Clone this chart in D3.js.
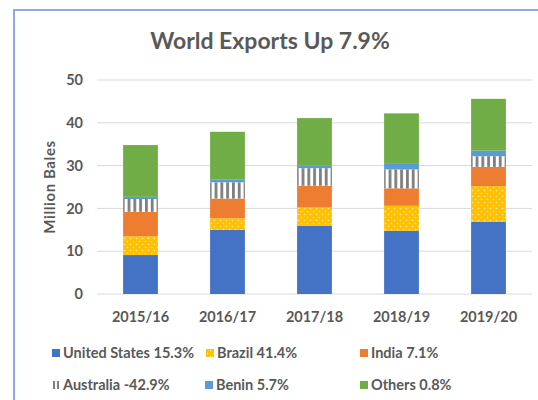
<!DOCTYPE html>
<html>
<head>
<meta charset="utf-8">
<script src="https://cdn.jsdelivr.net/npm/d3@7"></script>
<style>
  body { margin: 0; background: #fff; }
  svg { display: block; font-family: Lato, "Open Sans", sans-serif; }
</style>
</head>
<body>
<svg id="chart" width="538" height="400"></svg>
<script>
// data
var years = ["2015/16", "2016/17", "2017/18", "2018/19", "2019/20"];
var unitedStates = [9.1, 15.0, 15.9, 14.8, 16.9];
var brazil = [4.4, 2.7, 4.3, 5.8, 8.3];
var india = [5.7, 4.6, 5.1, 4.1, 4.5];
var australia = [3.0, 3.8, 4.1, 4.4, 2.5];
var benin = [0.5, 0.7, 0.7, 1.3, 1.3];
var others = [12.1, 11.1, 11.0, 11.8, 12.1];
var seriesNames = ["United States", "Brazil", "India", "Australia", "Benin", "Others"];
var legendLabels = ["United States 15.3%", "Brazil 41.4%", "India 7.1%",
                    "Australia -42.9%", "Benin 5.7%", "Others 0.8%"];
var yTicks = [0, 10, 20, 30, 40, 50];

var rows = years.map((y, i) => ({
  year: y,
  "United States": unitedStates[i],
  "Brazil": brazil[i],
  "India": india[i],
  "Australia": australia[i],
  "Benin": benin[i],
  "Others": others[i]
}));

var svg = d3.select("#chart");
var textColor = "#595959";
var labelSize = 14.5;

// patterns
var defs = svg.append("defs");
var dots = defs.append("pattern")
  .attr("id", "dots")
  .attr("patternUnits", "userSpaceOnUse")
  .attr("width", 6).attr("height", 6);
dots.append("rect").attr("width", 6).attr("height", 6).attr("fill", "#FFC000");
dots.append("circle").attr("cx", 1.5).attr("cy", 1.5).attr("r", 0.8).attr("fill", "#FFE9A6");
dots.append("circle").attr("cx", 4.5).attr("cy", 4.5).attr("r", 0.8).attr("fill", "#FFE9A6");

var stripes = defs.append("pattern")
  .attr("id", "stripes")
  .attr("patternUnits", "userSpaceOnUse")
  .attr("width", 5.8).attr("height", 6);
stripes.append("rect").attr("width", 5.8).attr("height", 6).attr("fill", "#ffffff");
stripes.append("rect").attr("x", 0).attr("width", 2.8).attr("height", 6).attr("fill", "#7f7f7f");

var color = d3.scaleOrdinal()
  .domain(seriesNames)
  .range(["#4472C4", "url(#dots)", "#ED7D31", "url(#stripes)", "#5B9BD5", "#70AD47"]);

// frame of the chart area
svg.append("path")
  .attr("d", "M14,400 V10 H538")
  .attr("fill", "none")
  .attr("stroke", "#8EA9E8")
  .attr("stroke-width", 2);

// title
svg.append("text")
  .attr("x", 270).attr("y", 49)
  .attr("text-anchor", "middle")
  .attr("fill", textColor)
  .attr("font-size", 23)
  .attr("font-weight", "bold")
  .text("World Exports Up 7.9%");

var x = d3.scaleBand().domain(years).range([97, 532]).paddingInner(0.6).paddingOuter(0.3);
var y = d3.scaleLinear().domain([0, 50]).range([294, 80]);

// gridlines
svg.append("g")
  .selectAll("line")
  .data(yTicks)
  .join("line")
  .attr("x1", 97).attr("x2", 532)
  .attr("y1", d => y(d)).attr("y2", d => y(d))
  .attr("stroke", "#d9d9d9")
  .attr("stroke-width", 1);

// y axis labels
var yAxis = d3.axisLeft(y).tickValues(yTicks).tickSize(0).tickPadding(0);
svg.append("g")
  .attr("transform", "translate(83,0)")
  .call(yAxis)
  .call(g => g.select(".domain").remove())
  .call(g => g.selectAll("text")
    .attr("fill", textColor)
    .attr("font-size", labelSize)
    .attr("font-family", "Lato, sans-serif")
    .attr("font-weight", "bold"));

svg.append("text")
  .attr("transform", "translate(55,187) rotate(-90)")
  .attr("text-anchor", "middle")
  .attr("fill", textColor)
  .attr("font-size", 15)
  .attr("letter-spacing", 0.6)
  .attr("font-weight", "bold")
  .text("Million Bales");

// x axis labels
var xAxis = d3.axisBottom(x).tickSize(0).tickPadding(0);
svg.append("g")
  .attr("transform", "translate(0,311.5)")
  .call(xAxis)
  .call(g => g.select(".domain").remove())
  .call(g => g.selectAll("text")
    .attr("fill", textColor)
    .attr("font-size", labelSize)
    .attr("font-family", "Lato, sans-serif")
    .attr("font-weight", "bold"));

// stacked bars
var stacked = d3.stack().keys(seriesNames)(rows);
svg.append("g")
  .selectAll("g")
  .data(stacked)
  .join("g")
  .attr("fill", d => color(d.key))
  .selectAll("rect")
  .data(d => d)
  .join("rect")
  .attr("x", d => x(d.data.year))
  .attr("width", x.bandwidth())
  .attr("y", d => y(d[1]))
  .attr("height", d => y(d[0]) - y(d[1]));

// legend
var legendPos = [[52, 358], [206, 358], [360, 358], [52, 390], [205, 390], [360, 390]];
var legend = svg.append("g")
  .selectAll("g")
  .data(seriesNames)
  .join("g")
  .attr("transform", (d, i) => `translate(${legendPos[i][0]},${legendPos[i][1]})`);

legend.each(function(d, i) {
  var g = d3.select(this);
  if (d === "Australia") {
    g.append("rect").attr("x", 1).attr("y", -9).attr("width", 2).attr("height", 8).attr("fill", "#7f7f7f");
    g.append("rect").attr("x", 5).attr("y", -9).attr("width", 2).attr("height", 8).attr("fill", "#7f7f7f");
  } else {
    g.append("rect").attr("x", 0).attr("y", -9).attr("width", 8).attr("height", 8).attr("fill", color(d));
  }
  g.append("text")
    .attr("x", 11).attr("y", 0)
    .attr("fill", textColor)
    .attr("font-size", labelSize)
    .attr("font-weight", "bold")
    .text(legendLabels[i]);
});
</script>
</body>
</html>
